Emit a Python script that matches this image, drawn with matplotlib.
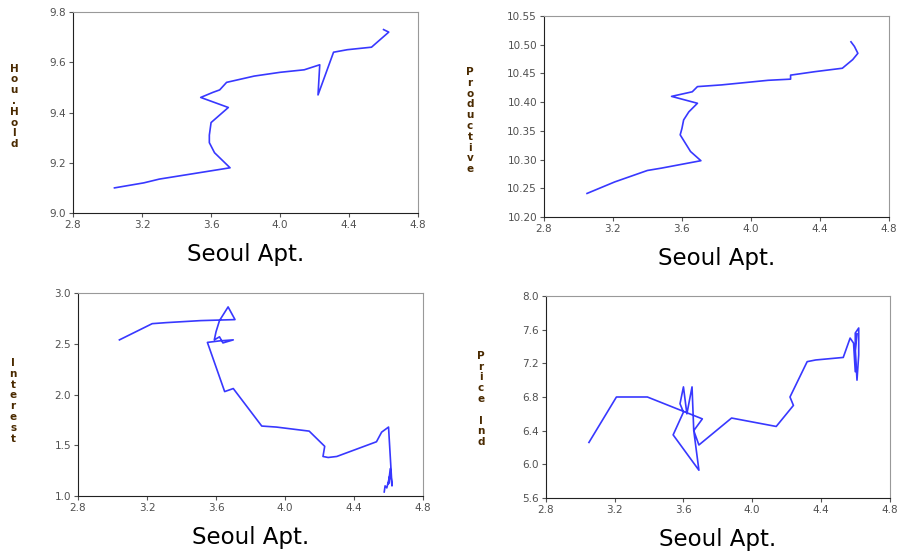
import matplotlib
matplotlib.use("Agg")
from matplotlib import pyplot as plt

# Seoul apartment price (x) against each macro series (y)
hh_x = [3.04, 3.21, 3.30, 3.71, 3.62, 3.59, 3.59, 3.60, 3.70, 3.54, 3.61, 3.65,
        3.69, 3.85, 4.00, 4.14, 4.23, 4.22, 4.31, 4.39, 4.53, 4.63, 4.60]
hh_y = [9.10, 9.12, 9.135, 9.18, 9.24, 9.28, 9.31, 9.36, 9.42, 9.46, 9.48, 9.49,
        9.52, 9.545, 9.56, 9.57, 9.59, 9.47, 9.64, 9.65, 9.66, 9.72, 9.73]

pr_x = [3.05, 3.21, 3.40, 3.48, 3.71, 3.65, 3.59, 3.60, 3.61, 3.64, 3.69, 3.54,
        3.66, 3.69, 3.83, 4.10, 4.23, 4.23, 4.37, 4.53, 4.59, 4.62, 4.60, 4.58]
pr_y = [10.241, 10.261, 10.281, 10.285, 10.298, 10.314, 10.343, 10.354, 10.369,
        10.383, 10.398, 10.41, 10.418, 10.427, 10.43, 10.438, 10.44, 10.447,
        10.453, 10.459, 10.474, 10.485, 10.497, 10.505]

ir_x = [3.04, 3.23, 3.31, 3.51, 3.71, 3.67, 3.62, 3.60, 3.59, 3.62, 3.64, 3.70,
        3.62, 3.55, 3.65, 3.70, 3.865, 3.95, 4.14, 4.23, 4.22, 4.25, 4.30, 4.53,
        4.56, 4.60, 4.62, 4.61, 4.60, 4.61, 4.59, 4.58, 4.575]
ir_y = [2.54, 2.70, 2.71, 2.73, 2.74, 2.865, 2.73, 2.62, 2.54, 2.57, 2.51, 2.54,
        2.53, 2.515, 2.03, 2.06, 1.69, 1.68, 1.64, 1.49, 1.39, 1.38, 1.39, 1.535,
        1.63, 1.68, 1.10, 1.27, 1.12, 1.22, 1.08, 1.10, 1.04]

pi_x = [3.05, 3.21, 3.39, 3.71, 3.66, 3.65, 3.62, 3.60, 3.58, 3.60, 3.54, 3.69,
        3.66, 3.69, 3.88, 4.14, 4.24, 4.22, 4.32, 4.37, 4.53, 4.57, 4.59, 4.60,
        4.60, 4.62, 4.62, 4.61, 4.60, 4.61]
pi_y = [6.26, 6.80, 6.80, 6.54, 6.40, 6.92, 6.60, 6.92, 6.72, 6.62, 6.35, 5.93,
        6.40, 6.23, 6.55, 6.45, 6.70, 6.80, 7.22, 7.24, 7.27, 7.50, 7.44, 7.10,
        7.56, 7.62, 7.30, 7.00, 7.35, 7.55]

x_ticks = [2.8, 3.2, 3.6, 4.0, 4.4, 4.8]

panels = [
    # x, y, ylabel, yticks, ytick format, axes rect, ylabel position
    (hh_x, hh_y, "Hou.Hold", [9.0, 9.2, 9.4, 9.6, 9.8], "%.1f",
     [0.081, 0.6134, 0.3825, 0.3648], (-0.171, 0.53)),
    (pr_x, pr_y, "Productive", [10.20, 10.25, 10.30, 10.35, 10.40, 10.45, 10.50, 10.55], "%.2f",
     [0.603, 0.6062, 0.3825, 0.3648], (-0.214, 0.48)),
    (ir_x, ir_y, "Interest", [1.0, 1.5, 2.0, 2.5, 3.0], "%.1f",
     [0.0865, 0.0998, 0.3825, 0.368], (-0.188, 0.47)),
    (pi_x, pi_y, "Price Ind", [5.6, 6.0, 6.4, 6.8, 7.2, 7.6, 8.0], "%.1f",
     [0.6053, 0.0962, 0.381, 0.3666], (-0.189, 0.49)),
]

fig = plt.figure(figsize=(9.02, 5.51), dpi=100)

for x, y, ylab, yticks, fmt, rect, ylab_pos in panels:
    ax = fig.add_axes(rect)
    ax.plot(x, y, color="#3838ff", linewidth=1.2)
    ax.set_xlim(x_ticks[0], x_ticks[-1])
    ax.set_ylim(yticks[0], yticks[-1])
    ax.set_xticks(x_ticks)
    ax.set_xticklabels(["%.1f" % t for t in x_ticks])
    ax.set_yticks(yticks)
    ax.set_yticklabels([fmt % t for t in yticks])
    ax.tick_params(direction="out", length=3, width=0.8, color="#555555",
                   labelsize=7.5, labelcolor="#505050", pad=2)
    for side in ["top", "right"]:
        ax.spines[side].set_color("#999999")
    for side in ["left", "bottom"]:
        ax.spines[side].set_color("#222222")
    ax.text(0.5, -0.205, "Seoul Apt.", transform=ax.transAxes,
            ha="center", va="center", fontsize=16.5, color="black")
    # stacked letters for the y label
    ax.text(ylab_pos[0], ylab_pos[1], "\n".join(ylab), transform=ax.transAxes,
            ha="center", va="center", fontsize=7.5, fontweight="bold",
            color="#4a2a00", linespacing=1.1)

fig.savefig("out.png", dpi=100)
